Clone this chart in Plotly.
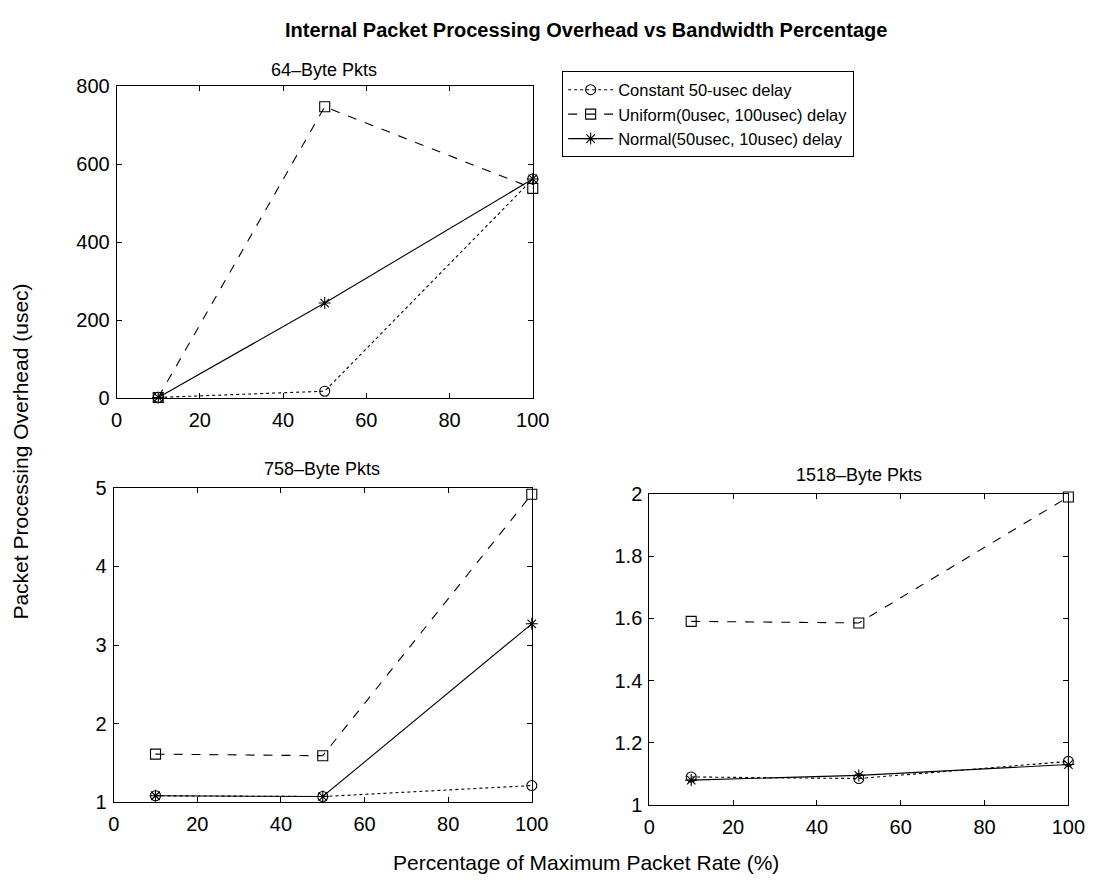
import plotly.graph_objects as go

W, H = 1102, 894

x_pct = [10, 50, 100]

series_names = ["Constant 50-usec delay", "Uniform(0usec, 100usec) delay", "Normal(50usec, 10usec) delay"]

# 64-Byte packets
b64_constant = [2, 18, 562]
b64_uniform = [2, 747, 538]
b64_normal = [2, 244, 562]

# 758-Byte packets
b758_constant = [1.08, 1.07, 1.21]
b758_uniform = [1.61, 1.59, 4.92]
b758_normal = [1.08, 1.07, 3.27]

# 1518-Byte packets
b1518_constant = [1.09, 1.085, 1.14]
b1518_uniform = [1.59, 1.585, 1.99]
b1518_normal = [1.08, 1.095, 1.13]

x_ticks = [0, 20, 40, 60, 80, 100]
y64_ticks = [0, 200, 400, 600, 800]
y758_ticks = [1, 2, 3, 4, 5]
y1518_ticks = [1, 1.2, 1.4, 1.6, 1.8, 2]

styles = [
    dict(dash="dot", symbol="circle-open"),
    dict(dash="dash", symbol="square-open"),
    dict(dash="solid", symbol="asterisk-open"),
]

FONT = "Liberation Sans, Arial, sans-serif"

fig = go.Figure()

panels = [
    ("x", "y", [b64_constant, b64_uniform, b64_normal], True),
    ("x2", "y2", [b758_constant, b758_uniform, b758_normal], False),
    ("x3", "y3", [b1518_constant, b1518_uniform, b1518_normal], False),
]

for xa, ya, data, show in panels:
    for name, vals, st in zip(series_names, data, styles):
        fig.add_trace(go.Scatter(
            x=x_pct, y=vals, name=name, xaxis=xa, yaxis=ya,
            mode="lines+markers", showlegend=show, cliponaxis=False,
            line=dict(color="black", width=1.1, dash=st["dash"]),
            marker=dict(symbol=st["symbol"], size=10, color="black",
                        line=dict(color="black", width=1.1)),
        ))

def px_dom_x(a, b):
    return [a / W, b / W]

def px_dom_y(top, bottom):
    return [1 - bottom / H, 1 - top / H]

axis_common = dict(
    showline=True, linecolor="black", linewidth=1, mirror="ticks",
    ticks="inside", ticklen=5, tickcolor="black", showgrid=False, zeroline=False,
    tickfont=dict(family=FONT, size=20, color="black"),
)
xcommon = dict(axis_common, ticklabelstandoff=4)
ycommon = dict(axis_common, ticklabelstandoff=2)

fig.update_layout(
    width=W, height=H,
    margin=dict(l=0, r=0, t=0, b=0),
    paper_bgcolor="white", plot_bgcolor="white",
    font=dict(family=FONT, color="black"),
    xaxis=dict(domain=px_dom_x(113, 538), range=[0, 100], tickvals=x_ticks, anchor="y", **xcommon),
    yaxis=dict(domain=px_dom_y(77, 397), range=[0, 800], tickvals=y64_ticks, anchor="x", **ycommon),
    xaxis2=dict(domain=px_dom_x(110, 537), range=[0, 100], tickvals=x_ticks, anchor="y2", **xcommon),
    yaxis2=dict(domain=px_dom_y(489, 811), range=[1, 5], tickvals=y758_ticks, anchor="x2", **ycommon),
    xaxis3=dict(domain=px_dom_x(657, 1085), range=[0, 100], tickvals=x_ticks, anchor="y3", **xcommon),
    yaxis3=dict(domain=px_dom_y(495, 814), range=[1, 2], tickvals=y1518_ticks, anchor="x3", **ycommon),
    legend=dict(
        x=568 / W, y=1 - 62 / H, xanchor="left", yanchor="top",
        bgcolor="white", bordercolor="black", borderwidth=1,
        font=dict(family=FONT, size=16.5, color="black"),
        tracegroupgap=0, itemwidth=45,
    ),
    showlegend=True,
)

ann_font = dict(family=FONT, size=18, color="black")
annotations = [
    dict(text="<b>Internal Packet Processing Overhead vs Bandwidth Percentage</b>",
         x=592 / W, y=1 - 19 / H, font=dict(family=FONT, size=20, color="black")),
    dict(text="64\u2013Byte Pkts", x=325 / W, y=1 - 60 / H, font=ann_font),
    dict(text="758\u2013Byte Pkts", x=323 / W, y=1 - 470 / H, font=ann_font),
    dict(text="1518\u2013Byte Pkts", x=871 / W, y=1 - 476 / H, font=ann_font),
    dict(text="Percentage of Maximum Packet Rate (%)", x=592 / W, y=1 - 873 / H,
         font=dict(family=FONT, size=21, color="black")),
    dict(text="Packet Processing Overhead (usec)", x=15 / W, y=1 - 452 / H, textangle=-90,
         font=dict(family=FONT, size=21, color="black")),
]
for a in annotations:
    fig.add_annotation(xref="paper", yref="paper", showarrow=False,
                       xanchor="center", yanchor="middle", **a)

fig.write_html("out.html")
